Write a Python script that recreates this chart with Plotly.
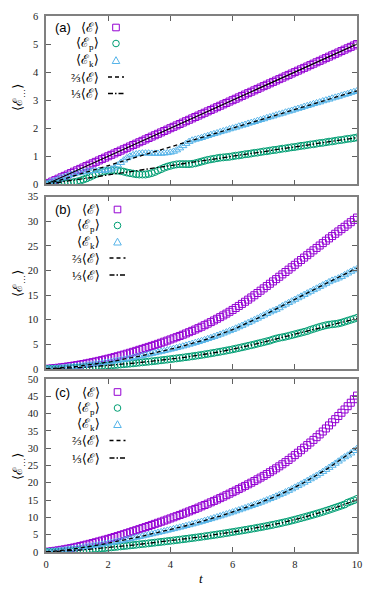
import plotly.graph_objects as go

# ---------------- data ----------------
T = [i / 10 for i in range(101)]

E_a = [0.00,0.05,0.10,0.15,0.20,0.25,0.30,0.35,0.40,0.45,
       0.50,0.55,0.60,0.65,0.70,0.75,0.80,0.85,0.90,0.95,
       1.00,1.05,1.10,1.15,1.20,1.25,1.30,1.35,1.40,1.45,
       1.50,1.55,1.60,1.65,1.70,1.75,1.80,1.85,1.90,1.95,
       2.00,2.05,2.10,2.15,2.20,2.25,2.30,2.35,2.40,2.45,
       2.50,2.55,2.60,2.65,2.70,2.75,2.80,2.85,2.90,2.95,
       3.00,3.05,3.10,3.15,3.20,3.25,3.30,3.35,3.40,3.45,
       3.50,3.55,3.60,3.65,3.70,3.75,3.80,3.85,3.90,3.95,
       4.00,4.05,4.10,4.15,4.20,4.25,4.30,4.35,4.40,4.45,
       4.50,4.55,4.60,4.65,4.70,4.75,4.80,4.85,4.90,4.95,
       5.00]
Ep_a = [0.00,0.00,0.00,0.01,0.01,0.02,0.03,0.04,0.06,0.08,
        0.10,0.13,0.17,0.21,0.26,0.31,0.36,0.40,0.44,0.47,
        0.49,0.50,0.50,0.49,0.47,0.45,0.42,0.40,0.38,0.36,
        0.35,0.35,0.35,0.37,0.40,0.44,0.49,0.54,0.59,0.63,
        0.66,0.69,0.71,0.72,0.72,0.72,0.72,0.73,0.75,0.78,
        0.81,0.84,0.87,0.89,0.91,0.93,0.95,0.96,0.97,0.98,
        1.00,1.02,1.03,1.05,1.07,1.08,1.10,1.12,1.13,1.15,
        1.17,1.18,1.20,1.22,1.23,1.25,1.27,1.28,1.30,1.32,
        1.33,1.35,1.37,1.38,1.40,1.42,1.43,1.45,1.47,1.48,
        1.50,1.52,1.53,1.55,1.57,1.58,1.60,1.62,1.63,1.65,
        1.67]
Ek_a = [0.00,0.05,0.10,0.14,0.19,0.23,0.27,0.31,0.34,0.37,
        0.40,0.42,0.44,0.46,0.47,0.48,0.48,0.49,0.49,0.50,
        0.51,0.54,0.60,0.68,0.77,0.86,0.94,1.00,1.05,1.08,
        1.10,1.11,1.11,1.11,1.10,1.10,1.10,1.10,1.11,1.12,
        1.14,1.17,1.22,1.29,1.37,1.45,1.52,1.57,1.60,1.63,
        1.66,1.70,1.73,1.77,1.80,1.83,1.87,1.90,1.93,1.97,
        2.00,2.03,2.07,2.10,2.13,2.17,2.20,2.23,2.27,2.30,
        2.33,2.37,2.40,2.43,2.47,2.50,2.53,2.57,2.60,2.63,
        2.67,2.70,2.73,2.77,2.80,2.83,2.87,2.90,2.93,2.97,
        3.00,3.03,3.07,3.10,3.13,3.17,3.20,3.23,3.27,3.30,
        3.33]

E_b = [0.00,0.06,0.12,0.19,0.26,0.34,0.42,0.51,0.60,0.70,
       0.80,0.91,1.02,1.14,1.26,1.39,1.52,1.66,1.80,1.95,
       2.10,2.26,2.42,2.59,2.76,2.93,3.11,3.30,3.49,3.69,
       3.90,4.09,4.29,4.49,4.69,4.90,5.11,5.33,5.55,5.77,
       6.00,6.23,6.47,6.71,6.96,7.22,7.48,7.75,8.02,8.30,
       8.59,8.90,9.21,9.53,9.86,10.20,10.54,10.89,11.25,11.62,
       12.00,12.40,12.81,13.23,13.66,14.09,14.53,14.98,15.44,15.91,
       16.38,16.85,17.32,17.79,18.26,18.74,19.22,19.70,20.18,20.67,
       21.16,21.65,22.14,22.63,23.12,23.61,24.10,24.59,25.08,25.57,
       26.06,26.53,27.00,27.47,27.94,28.41,28.88,29.35,29.82,30.29,
       30.76]
Ep_b = [0.00,0.00,0.01,0.02,0.04,0.06,0.09,0.12,0.16,0.20,
        0.24,0.28,0.32,0.37,0.41,0.46,0.50,0.55,0.60,0.65,
        0.70,0.75,0.81,0.86,0.92,0.98,1.04,1.10,1.16,1.23,
        1.30,1.36,1.43,1.50,1.56,1.63,1.70,1.78,1.85,1.92,
        2.00,2.08,2.16,2.24,2.32,2.41,2.49,2.58,2.67,2.77,
        2.86,2.97,3.07,3.18,3.29,3.40,3.51,3.63,3.75,3.87,
        4.00,4.13,4.27,4.41,4.55,4.70,4.84,4.99,5.15,5.30,
        5.46,5.62,5.77,6.00,6.18,6.33,6.45,6.57,6.73,6.89,
        7.05,7.22,7.38,7.54,7.71,7.95,8.15,8.35,8.55,8.72,
        8.88,9.00,9.08,9.15,9.25,9.40,9.60,9.80,10.00,10.20,
        10.40]
Ek_b = [0.00,0.06,0.11,0.17,0.22,0.28,0.33,0.39,0.44,0.50,
        0.56,0.63,0.70,0.77,0.85,0.93,1.01,1.11,1.20,1.30,
        1.40,1.51,1.61,1.73,1.84,1.95,2.07,2.20,2.33,2.46,
        2.60,2.73,2.86,2.99,3.13,3.27,3.41,3.55,3.70,3.85,
        4.00,4.15,4.31,4.47,4.64,4.81,4.99,5.17,5.35,5.53,
        5.73,5.93,6.14,6.35,6.57,6.80,7.03,7.26,7.50,7.75,
        8.00,8.27,8.54,8.82,9.11,9.39,9.69,9.99,10.29,10.61,
        10.92,11.23,11.55,11.80,12.08,12.40,12.81,13.13,13.45,13.78,
        14.11,14.43,14.76,15.09,15.41,15.74,16.07,16.39,16.72,17.05,
        17.37,17.69,18.00,18.20,18.45,18.75,19.10,19.45,19.80,20.10,
        20.35]

E_c = [0.00,0.11,0.22,0.35,0.48,0.63,0.78,0.95,1.12,1.31,
       1.50,1.71,1.92,2.14,2.36,2.59,2.82,3.06,3.30,3.55,
       3.80,4.06,4.33,4.60,4.87,5.15,5.43,5.72,6.01,6.30,
       6.60,6.90,7.20,7.51,7.82,8.13,8.44,8.75,9.06,9.38,
       9.70,10.03,10.36,10.70,11.04,11.38,11.73,12.08,12.44,12.82,
       13.20,13.58,13.97,14.36,14.76,15.16,15.57,15.99,16.42,16.86,
       17.30,17.74,18.19,18.64,19.10,19.56,20.03,20.51,21.00,21.50,
       22.00,22.52,23.06,23.61,24.18,24.76,25.35,25.97,26.61,27.29,
       28.00,28.70,29.42,30.15,30.89,31.64,32.40,33.18,33.98,34.82,
       35.70,36.58,37.48,38.39,39.31,40.24,41.18,42.14,43.14,44.16,
       45.20]
Ep_c = [0.00,0.00,0.01,0.02,0.05,0.08,0.12,0.17,0.23,0.30,
        0.37,0.45,0.53,0.62,0.71,0.80,0.89,0.98,1.07,1.16,
        1.25,1.34,1.43,1.53,1.62,1.72,1.81,1.91,2.00,2.10,
        2.20,2.30,2.40,2.50,2.61,2.71,2.81,2.92,3.02,3.13,
        3.23,3.34,3.45,3.57,3.68,3.79,3.91,4.03,4.15,4.27,
        4.40,4.53,4.66,4.79,4.92,5.05,5.19,5.33,5.47,5.62,
        5.77,5.91,6.06,6.21,6.37,6.52,6.68,6.84,7.00,7.17,
        7.33,7.51,7.69,7.87,8.06,8.25,8.45,8.66,8.87,9.10,
        9.33,9.57,9.81,10.05,10.30,10.55,10.80,11.06,11.33,11.61,
        11.90,12.19,12.49,12.80,13.10,13.41,13.73,14.25,14.60,14.95,
        15.35]
Ek_c = [0.00,0.10,0.21,0.32,0.43,0.54,0.66,0.77,0.89,1.00,
        1.13,1.26,1.39,1.52,1.65,1.79,1.93,2.08,2.23,2.39,
        2.55,2.71,2.89,3.07,3.25,3.43,3.62,3.81,4.01,4.20,
        4.40,4.60,4.80,5.01,5.21,5.42,5.63,5.83,6.04,6.25,
        6.47,6.69,6.91,7.13,7.36,7.59,7.82,8.05,8.29,8.55,
        8.80,9.05,9.31,9.57,9.84,10.11,10.38,10.66,10.95,11.24,
        11.53,11.83,12.13,12.43,12.73,13.04,13.35,13.67,14.00,14.33,
        14.67,15.01,15.37,15.74,16.12,16.51,16.90,17.31,17.74,18.19,
        18.67,19.13,19.61,20.10,20.59,21.09,21.60,22.12,22.65,23.21,
        23.80,24.39,24.99,25.59,26.21,26.83,27.45,27.95,28.55,29.25,
        29.90]

PANEL_LABELS = ["(a)", "(b)", "(c)"]
LEGEND_TEXT = ["⟨ℰ⟩", "⟨ℰ<sub>p</sub>⟩", "⟨ℰ<sub>k</sub>⟩", "⅔⟨ℰ⟩", "⅓⟨ℰ⟩"]
Y_RANGES = [6, 35, 50]
Y_DTICK = [1, 5, 5]

# ---------------- style ----------------
PURPLE, GREEN, BLUE = "#9400D3", "#009E73", "#56B4E9"
SERIF = "Liberation Serif, DejaVu Serif, serif"
W, H = 373, 593
ML, MR, MT, MB = 46, 16, 16, 41
PW, PH = W - ML - MR, H - MT - MB
DOMAINS = [[0.686, 1.0], [0.3414, 0.6629], [0.0, 0.3228]]


def px(x, y):
    return (x - ML) / PW, (H - MB - y) / PH


fig = go.Figure()
panels = [(E_a, Ep_a, Ek_a), (E_b, Ep_b, Ek_b), (E_c, Ep_c, Ek_c)]
for k, (E, Ep, Ek) in enumerate(panels):
    xa = "x" if k == 0 else f"x{k+1}"
    ya = "y" if k == 0 else f"y{k+1}"
    mk = dict(size=7, line=dict(width=1))
    fig.add_trace(go.Scatter(x=T, y=E, mode="markers", xaxis=xa, yaxis=ya,
                             marker=dict(symbol="square-open", color=PURPLE, **mk), showlegend=False))
    fig.add_trace(go.Scatter(x=T, y=Ep, mode="markers", xaxis=xa, yaxis=ya,
                             marker=dict(symbol="circle-open", color=GREEN, **mk), showlegend=False))
    fig.add_trace(go.Scatter(x=T, y=Ek, mode="markers", xaxis=xa, yaxis=ya,
                             marker=dict(symbol="triangle-up-open", color=BLUE, **mk), showlegend=False))
    if k == 0:
        fig.add_trace(go.Scatter(x=T, y=E, mode="lines", xaxis=xa, yaxis=ya,
                                 line=dict(color="black", width=1.2), showlegend=False))
    fig.add_trace(go.Scatter(x=T, y=[2 * e / 3 for e in E], mode="lines", xaxis=xa, yaxis=ya,
                             line=dict(color="black", width=1.3, dash="4px,3px"), showlegend=False))
    fig.add_trace(go.Scatter(x=T, y=[e / 3 for e in E], mode="lines", xaxis=xa, yaxis=ya,
                             line=dict(color="black", width=1.3, dash="5px,2px,1.5px,2px"), showlegend=False))

axis_common = dict(showline=True, mirror="ticks", linecolor="#808080", linewidth=1.5,
                   ticks="inside", ticklen=5, tickwidth=1, tickcolor="#606060",
                   showgrid=False, zeroline=False,
                   tickfont=dict(family=SERIF, size=10.5, color="#222"))
layout = dict(width=W, height=H, margin=dict(l=ML, r=MR, t=MT, b=MB),
              paper_bgcolor="white", plot_bgcolor="white", showlegend=False)
for k in range(3):
    xs = "xaxis" if k == 0 else f"xaxis{k+1}"
    ys = "yaxis" if k == 0 else f"yaxis{k+1}"
    ya = "y" if k == 0 else f"y{k+1}"
    xa = "x" if k == 0 else f"x{k+1}"
    layout[xs] = dict(axis_common, range=[0, 10], dtick=2, anchor=ya,
                      showticklabels=(k == 2), domain=[0, 1], ticklabelstandoff=2)
    layout[ys] = dict(axis_common, range=[0, Y_RANGES[k]], dtick=Y_DTICK[k], anchor=xa,
                      domain=DOMAINS[k], ticklabelstandoff=4)
fig.update_layout(**layout)

# ---------------- in-panel key (gnuplot style: text then sample) ----------------
KEY = [
    dict(rows=[27.5, 43.5, 60.5, 77, 93.5], xt=101, xs=116, xl=(108, 124)),
    dict(rows=[209.5, 225.5, 242, 258, 275], xt=102, xs=117.5, xl=(109.5, 125.5)),
    dict(rows=[392, 408, 424.5, 440.5, 458], xt=102, xs=117.5, xl=(109.5, 125.5)),
]
ann = []
shapes = []
for k, key in enumerate(KEY):
    r = key["rows"]
    lx, ly = px(53, r[0])
    ann.append(dict(x=lx, y=ly, xref="paper", yref="paper", text=PANEL_LABELS[k],
                    showarrow=False, xanchor="left", yanchor="middle",
                    font=dict(family="Liberation Sans, Arial, sans-serif", size=13, color="black")))
    for j, txt in enumerate(LEGEND_TEXT):
        tx, ty = px(key["xt"], r[j])
        ann.append(dict(x=tx, y=ty, xref="paper", yref="paper", text=txt, showarrow=False,
                        xanchor="right", yanchor="middle",
                        font=dict(family=SERIF, size=13, color="black")))
    s = 3.3
    xc = key["xs"]
    x0, y0 = px(xc - s, r[0] + s); x1, y1 = px(xc + s, r[0] - s)
    shapes.append(dict(type="rect", xref="paper", yref="paper", x0=x0, y0=y0, x1=x1, y1=y1,
                       line=dict(color=PURPLE, width=1)))
    x0, y0 = px(xc - s, r[1] + s); x1, y1 = px(xc + s, r[1] - s)
    shapes.append(dict(type="circle", xref="paper", yref="paper", x0=x0, y0=y0, x1=x1, y1=y1,
                       line=dict(color=GREEN, width=1)))
    ax_, ay_ = px(xc - 3.8, r[2] + 3)
    bx_, by_ = px(xc + 3.8, r[2] + 3)
    cx_, cy_ = px(xc, r[2] - 3.8)
    shapes.append(dict(type="path", xref="paper", yref="paper",
                       path=f"M {ax_},{ay_} L {bx_},{by_} L {cx_},{cy_} Z",
                       line=dict(color=BLUE, width=1)))
    for j, dash in [(3, "4px,3px"), (4, "5px,2px,1.5px,2px")]:
        x0, y0 = px(key["xl"][0], r[j]); x1, _ = px(key["xl"][1], r[j])
        shapes.append(dict(type="line", xref="paper", yref="paper", x0=x0, y0=y0, x1=x1, y1=y0,
                           line=dict(color="black", width=1.3, dash=dash)))

# y-axis titles
for yc in [98, 284, 467]:
    tx, ty = px(18, yc)
    ann.append(dict(x=tx, y=ty, xref="paper", yref="paper", text="⟨ℰ<sub>…</sub>⟩",
                    textangle=-90, showarrow=False, xanchor="center", yanchor="middle",
                    font=dict(family=SERIF, size=13, color="black")))
# x-axis title
tx, ty = px(201, 578)
ann.append(dict(x=tx, y=ty, xref="paper", yref="paper", text="<i>t</i>", showarrow=False,
                xanchor="center", yanchor="middle", font=dict(family=SERIF, size=13, color="black")))

fig.update_layout(annotations=ann, shapes=shapes)
fig.write_html("out.html", config={"displayModeBar": False},
               post_script="document.body.style.margin='0';document.body.style.overflow='hidden';")
